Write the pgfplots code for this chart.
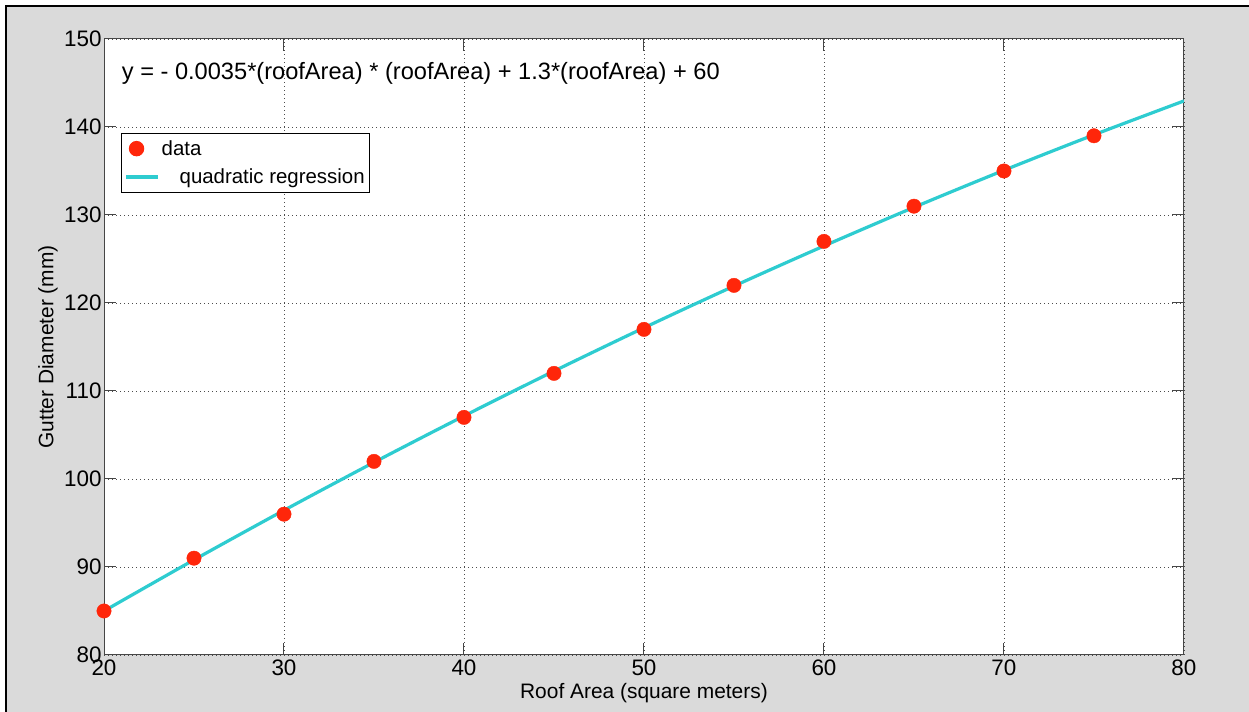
\documentclass[border=0pt]{standalone}
\usepackage{pgfplots}
\pgfplotsset{compat=1.18}
\usepackage{fontspec}
\setmainfont{Liberation Sans}
\definecolor{figgray}{RGB}{218,218,218}
\definecolor{dotred}{RGB}{255,38,10}
\definecolor{fitcyan}{RGB}{46,204,208}
\definecolor{axgray}{RGB}{70,70,70}
\begin{document}
\begin{tikzpicture}[x=1bp,y=1bp]
\useasboundingbox (0,0) rectangle (1249,712);
\fill[white] (0,0) rectangle (1249,712);
\fill[figgray] (6,0) rectangle (1249,706);
\draw[line width=2bp] (6,0) -- (6,706) -- (1249,706);
\begin{axis}[
  at={(104bp,57bp)}, anchor=south west,
  scale only axis, width=1080bp, height=616bp,
  xmin=20, xmax=80, ymin=80, ymax=150,
  xtick={20,30,...,80}, ytick={80,90,...,150},
  axis background/.style={fill=white},
  axis line style={axgray, line width=1bp},
  tick style={axgray, line width=1bp},
  major tick length=12bp,
  tick align=inside,
  xtick pos=both, ytick pos=both,
  grid=major,
  major grid style={dash pattern=on 1bp off 3bp, black!70, line width=0.9bp},
  ticklabel style={font=\fontsize{22.5}{24}\selectfont},
  /pgf/number format/assume math mode=true,
  xticklabel style={yshift=-1bp},
  yticklabel style={xshift=1bp},
  xlabel={Roof Area (square meters)},
  ylabel={Gutter Diameter (mm)},
  label style={font=\fontsize{21}{23}\selectfont},
  xlabel style={at={(axis description cs:0.5,0)}, anchor=center, yshift=-38bp},
  ylabel style={at={(axis description cs:0,0.5)}, anchor=center, yshift=56bp},
  legend style={at={(0.0157,0.8474)}, anchor=north west,
    draw=black, line width=1bp, fill=white,
    font=\fontsize{20.5}{23}\selectfont,
    inner xsep=3bp, inner ysep=5bp,
    row sep=8bp,
    /tikz/every even column/.append style={column sep=4bp}},
  legend cell align=left,
]
\addplot[only marks, mark=*, mark size=7.2bp, color=dotred, mark options={draw=dotred, fill=dotred}]
  coordinates {(20,85) (25,91) (30,96) (35,102) (40,107) (45,112) (50,117) (55,122) (60,127) (65,131) (70,135) (75,139)};
\addlegendentry{data}
\addplot[color=fitcyan, line width=3.2bp, smooth,
  legend image code/.code={\draw[fitcyan, line width=3.2bp] (-2bp,0) -- (30bp,0);}]
  coordinates {(20,85.0) (25,90.81) (30,96.44) (35,101.89) (40,107.16) (45,112.26) (50,117.18) (55,121.92) (60,126.48) (65,130.87) (70,135.08) (75,139.11) (80,142.96)};
\addlegendentry{\hspace{18bp}quadratic regression}
\node[anchor=west, font=\fontsize{23.7}{26}\selectfont] at (axis cs:20.8,146.1) {y = - 0.0035*(roofArea) * (roofArea) + 1.3*(roofArea) + 60};
\end{axis}
\end{tikzpicture}
\end{document}
